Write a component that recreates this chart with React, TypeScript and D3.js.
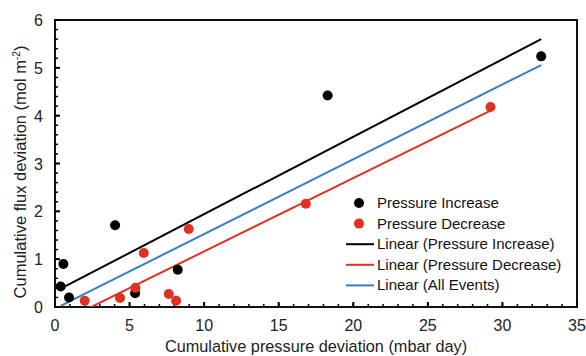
import * as d3 from 'd3';

type Pt = { x: number; y: number };

// Pressure Increase events
const incX = [0.38, 0.56, 0.94, 4.03, 5.37, 8.23, 18.28, 32.6];
const incY = [0.43, 0.9, 0.2, 1.71, 0.29, 0.78, 4.42, 5.24];
// Pressure Decrease events
const decX = [1.99, 4.36, 5.39, 5.95, 7.63, 8.12, 8.97, 16.82, 29.2];
const decY = [0.13, 0.19, 0.4, 1.13, 0.27, 0.13, 1.63, 2.16, 4.18];

const xTickVals = [0, 5, 10, 15, 20, 25, 30, 35];
const yTickVals = [0, 1, 2, 3, 4, 5, 6];

const legendItems = [
  { label: 'Pressure Increase', kind: 'dot', color: '#000000' },
  { label: 'Pressure Decrease', kind: 'dot', color: '#e03020' },
  { label: 'Linear (Pressure Increase)', kind: 'line', color: '#000000' },
  { label: 'Linear (Pressure Decrease)', kind: 'line', color: '#e03020' },
  { label: 'Linear (All Events)', kind: 'line', color: '#3a7cc4' },
];

const zip = (xs: number[], ys: number[]): Pt[] => xs.map((x, i) => ({ x, y: ys[i] }));

// least squares trendline over the series' own x range (like Excel)
const fit = (pts: Pt[]) => {
  const mx = d3.mean(pts, (p) => p.x) ?? 0;
  const my = d3.mean(pts, (p) => p.y) ?? 0;
  const sxy = d3.sum(pts, (p) => (p.x - mx) * (p.y - my));
  const sxx = d3.sum(pts, (p) => (p.x - mx) ** 2);
  const slope = sxy / sxx;
  const intercept = my - slope * mx;
  const [x0, x1] = d3.extent(pts, (p) => p.x) as [number, number];
  return [
    { x: x0, y: slope * x0 + intercept },
    { x: x1, y: slope * x1 + intercept },
  ];
};

export default function App() {
  const width = 586;
  const height = 356;
  const m = { left: 55, right: 9, top: 20, bottom: 49 };

  const x = d3.scaleLinear().domain([0, 35]).range([m.left, width - m.right]);
  const y = d3.scaleLinear().domain([0, 6]).range([height - m.bottom, m.top]);

  const inc = zip(incX, incY);
  const dec = zip(decX, decY);
  const all = [...inc, ...dec];

  const lines = [
    { pts: fit(inc), color: '#000000' },
    { pts: fit(all), color: '#3a7cc4' },
    { pts: fit(dec), color: '#e03020' },
  ];

  const line = d3
    .line<Pt>()
    .x((d) => x(d.x))
    .y((d) => y(d.y));

  const minorX = d3.range(0, 35.01, 1);
  const minorY = d3.range(0, 6.01, 0.2);
  const font = 'Liberation Sans, Arial, sans-serif';
  const x0 = x(0);
  const y0 = y(0);

  return (
    <svg
      width={width}
      height={height}
      style={{ position: 'absolute', left: 0, top: 0, fontFamily: font }}
    >
      <defs>
        <clipPath id="plot">
          <rect x={x0} y={y(6)} width={x(35) - x0} height={y0 - y(6)} />
        </clipPath>
      </defs>
      <rect width={width} height={height} fill="#fff" />

      <rect
        x={x0}
        y={y(6)}
        width={x(35) - x0}
        height={y0 - y(6)}
        fill="none"
        stroke="#111"
        strokeWidth={2}
      />

      {minorX.map((t) => (
        <line key={`mx${t}`} x1={x(t)} x2={x(t)} y1={y0} y2={y0 - 3} stroke="#000" strokeWidth={1.5} />
      ))}
      {minorY.map((t) => (
        <line key={`my${t}`} x1={x0} x2={x0 + 3} y1={y(t)} y2={y(t)} stroke="#000" strokeWidth={1.5} />
      ))}
      {xTickVals.map((t) => (
        <g key={`x${t}`}>
          <line x1={x(t)} x2={x(t)} y1={y0} y2={y0 - 5} stroke="#000" strokeWidth={2} />
          <text x={x(t)} y={y0 + 24} textAnchor="middle" fontSize={16} fill="#222">
            {t}
          </text>
        </g>
      ))}
      {yTickVals.map((t) => (
        <g key={`y${t}`}>
          <line x1={x0} x2={x0 + 5} y1={y(t)} y2={y(t)} stroke="#000" strokeWidth={2} />
          <text x={x0 - 12} y={y(t) + 6} textAnchor="end" fontSize={16} fill="#222">
            {t}
          </text>
        </g>
      ))}

      <g clipPath="url(#plot)">
        {lines.map((l, i) => (
          <path key={i} d={line(l.pts) ?? ''} fill="none" stroke={l.color} strokeWidth={2} />
        ))}
      </g>

      {inc.map((p, i) => (
        <circle key={`i${i}`} cx={x(p.x)} cy={y(p.y)} r={5} fill="#000" />
      ))}
      {dec.map((p, i) => (
        <circle key={`d${i}`} cx={x(p.x)} cy={y(p.y)} r={5} fill="#e03020" />
      ))}

      {legendItems.map((it, i) => {
        const ly = 203 + i * 20.6;
        return (
          <g key={it.label}>
            {it.kind === 'dot' ? (
              <circle cx={359} cy={ly} r={5} fill={it.color} />
            ) : (
              <line x1={346} x2={374} y1={ly} y2={ly} stroke={it.color} strokeWidth={2} />
            )}
            <text x={377} y={ly + 5} fontSize={15} fill="#111">
              {it.label}
            </text>
          </g>
        );
      })}

      <text x={(x0 + x(35)) / 2} y={352} textAnchor="middle" fontSize={16.3} fill="#222">
        Cumulative pressure deviation (mbar day)
      </text>
      <text
        transform={`translate(26,172) rotate(-90)`}
        textAnchor="middle"
        fontSize={16.5}
        fill="#222"
      >
        Cumulative flux deviation (mol m
        <tspan dy={-6} fontSize={10}>-2</tspan>
        <tspan dy={6}>)</tspan>
      </text>
    </svg>
  );
}
